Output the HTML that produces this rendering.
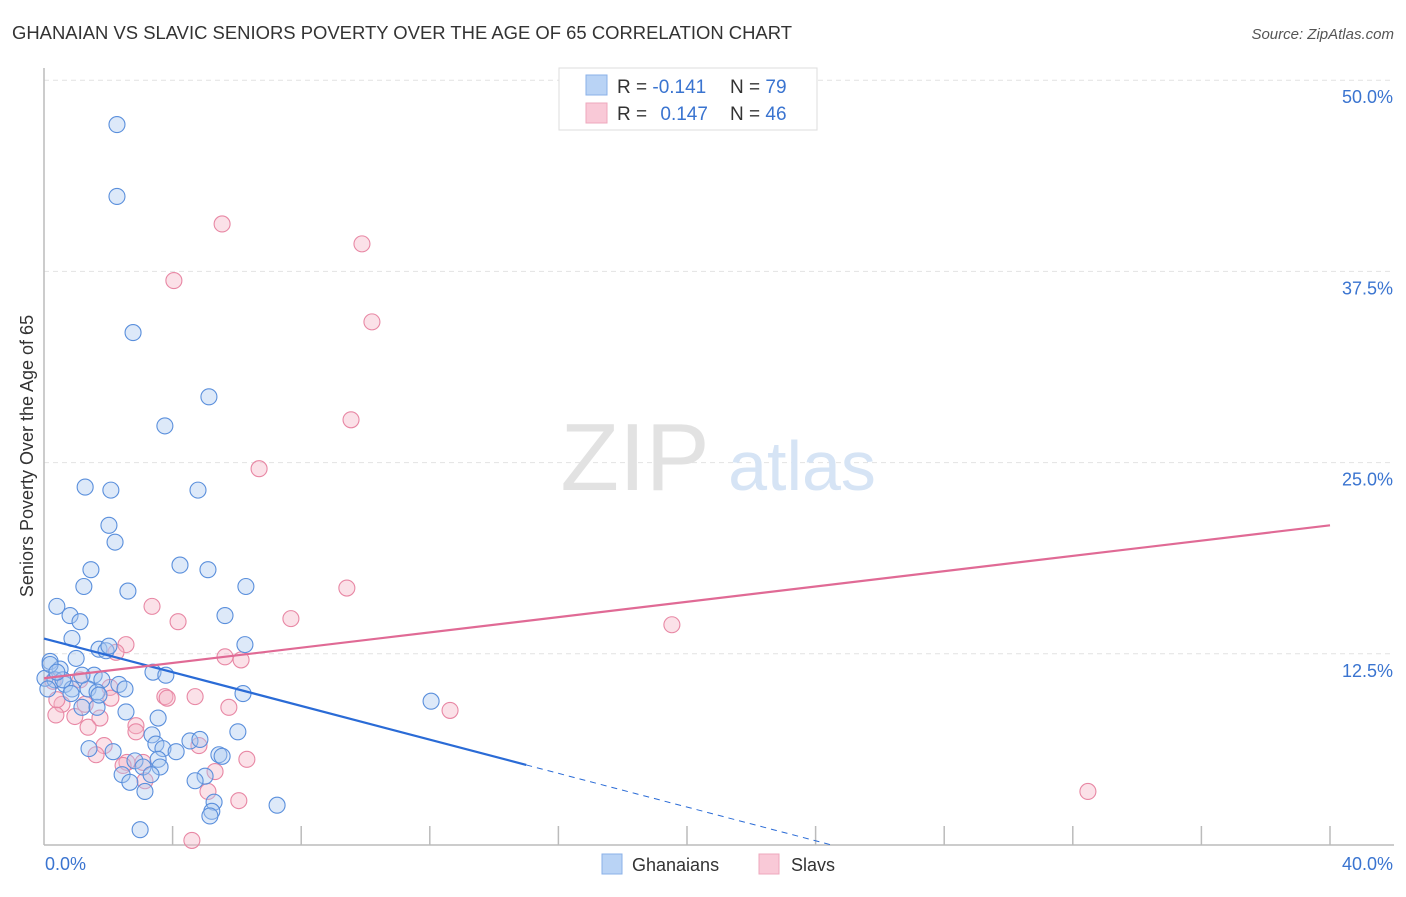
<!DOCTYPE html>
<html><head><meta charset="utf-8"><style>
body{margin:0;background:#fff;font-family:"Liberation Sans",sans-serif;}
svg text{font-family:"Liberation Sans",sans-serif;}
</style></head><body>
<svg id="chart" width="1406" height="892">
<text x="12" y="39" font-size="18" fill="#333" textLength="780" lengthAdjust="spacingAndGlyphs">GHANAIAN VS SLAVIC SENIORS POVERTY OVER THE AGE OF 65 CORRELATION CHART</text>
<text x="1394" y="39" font-size="15" fill="#555" font-style="italic" text-anchor="end">Source: ZipAtlas.com</text>
<text transform="translate(33,456) rotate(-90)" font-size="18" fill="#333" text-anchor="middle">Seniors Poverty Over the Age of 65</text>
<g id="grid"></g>
<g id="wm">
<text x="635" y="490" font-size="96" fill="#e2e2e2" font-family="Liberation Serif" text-anchor="middle">ZIP</text>
<text x="802" y="490" font-size="70" fill="#d6e4f5" text-anchor="middle">atlas</text>
</g>
<g id="axes"></g>
<g id="pts"></g>
<g id="trend"></g>
<g>
<rect x="559" y="68" width="258" height="62" fill="#fff" stroke="#ddd"/>
<rect x="586" y="75" width="21" height="20" fill="#b9d3f5" stroke="#8ab0e8"/>
<rect x="586" y="103" width="21" height="20" fill="#f9c9d7" stroke="#eea8bd"/>
<text x="617" y="93" font-size="19" fill="#333">R = <tspan fill="#3a74d0">-0.141</tspan></text>
<text x="730" y="93" font-size="19" fill="#333">N = <tspan fill="#3a74d0">79</tspan></text>
<text x="617" y="120" font-size="19" fill="#333">R = <tspan fill="#3a74d0" dx="8">0.147</tspan></text>
<text x="730" y="120" font-size="19" fill="#333">N = <tspan fill="#3a74d0">46</tspan></text>
</g>
<g>
<rect x="602" y="854" width="20" height="20" fill="#b9d3f5" stroke="#8ab0e8"/>
<text x="632" y="871" font-size="18" fill="#333">Ghanaians</text>
<rect x="759" y="854" width="20" height="20" fill="#f9c9d7" stroke="#eea8bd"/>
<text x="791" y="871" font-size="18" fill="#333">Slavs</text>
</g>
</svg>
<script>
const blueX=[2.27,2.27,2.77,5.13,3.76,1.28,2.08,4.79,2.02,2.21,4.23,1.46,5.10,2.61,1.24,6.28,0.40,0.81,1.12,5.63,0.87,6.25,1.71,1.93,1.00,0.19,0.50,1.56,2.33,1.80,3.39,3.79,0.03,0.34,0.65,0.87,1.37,1.65,2.52,6.19,12.04,1.18,1.65,2.55,3.55,3.36,6.03,4.54,4.85,3.48,3.70,1.40,2.15,4.11,5.44,5.54,3.55,2.83,3.08,3.61,3.33,2.43,5.01,4.70,2.67,3.14,5.29,5.22,5.16,7.25,2.99,0.19,0.12,0.59,0.40,1.71,0.84,2.02,1.18];
const blueY=[47.1,42.4,33.5,29.3,27.4,23.4,23.2,23.2,20.9,19.8,18.3,18.0,18.0,16.6,16.9,16.9,15.6,15.0,14.6,15.0,13.5,13.1,12.8,12.7,12.2,12.0,11.5,11.1,10.5,10.8,11.3,11.1,10.9,10.8,10.5,10.2,10.2,10.0,10.2,9.9,9.4,9.0,9.0,8.7,8.3,7.2,7.4,6.8,6.9,6.6,6.3,6.3,6.1,6.1,5.9,5.8,5.6,5.5,5.1,5.1,4.6,4.6,4.5,4.2,4.1,3.5,2.8,2.2,1.9,2.6,1.0,11.8,10.2,10.8,11.3,9.8,9.9,13.0,11.1];
const pinkX=[5.54,9.89,4.04,10.20,9.55,6.69,9.42,3.36,4.17,7.68,19.53,2.55,2.24,5.63,6.13,0.28,1.12,2.05,3.76,4.70,3.83,2.08,0.56,0.37,0.96,1.74,5.75,12.63,1.37,2.86,1.87,1.62,4.82,6.31,2.58,2.46,3.08,5.32,5.10,3.14,6.06,32.47,4.60,1.28,2.86,0.40];
const pinkY=[40.6,39.3,36.9,34.2,27.8,24.6,16.8,15.6,14.6,14.8,14.4,13.1,12.6,12.3,12.1,10.7,10.8,10.3,9.7,9.7,9.6,9.6,9.2,8.5,8.4,8.3,9.0,8.8,7.7,7.8,6.5,5.9,6.5,5.6,5.4,5.2,5.4,4.8,3.5,4.2,2.9,3.5,0.3,9.2,7.4,9.5];
const yTicks=[12.5,25.0,37.5,50.0];
const xTicks=[0,4,8,12,16,20,24,28,32,36,40];
const blueTrend=[13.5,-0.551]; // intercept, slope
const pinkTrend=[10.9,0.25];
const blueSolidEnd=15.0;

const NS="http://www.w3.org/2000/svg";
const X0=44,X1=1330,Y0=845,PPY=191.2/12.5;
const sx=v=>X0+(v/40)*(X1-X0);
const sy=v=>Y0-v*PPY;
function mk(tag,attrs,parent){const e=document.createElementNS(NS,tag);for(const k in attrs)e.setAttribute(k,attrs[k]);parent.appendChild(e);return e;}
const grid=document.getElementById('grid'),axes=document.getElementById('axes'),pts=document.getElementById('pts'),trend=document.getElementById('trend');
yTicks.forEach(t=>{
  const l=mk('line',{x1:X0,x2:1394,y1:sy(t),y2:sy(t),stroke:'#e2e2e2','stroke-dasharray':'5,4'},grid);
  
  
  const tx=mk('text',{x:1393,y:sy(t)+23,'font-size':18,fill:'#3a74d0','text-anchor':'end'},axes);
  tx.textContent=t.toFixed(1)+'%';
  
  
});
mk('line',{x1:X0,x2:X0,y1:68,y2:Y0,stroke:'#bbb','stroke-width':1.5},axes);
mk('line',{x1:X0,x2:1394,y1:Y0,y2:Y0,stroke:'#bbb','stroke-width':1.5},axes);
xTicks.slice(1).forEach(t=>{
  const l=mk('line',{x1:sx(t),x2:sx(t),y1:Y0-19,y2:Y0,stroke:'#bbb','stroke-width':1.5},axes);
  
  
});
[[0,'0.0%','start',45],[40,'40.0%','end',1393]].forEach(a=>{
  const tx=mk('text',{x:a[3],y:870,'font-size':18,fill:'#3a74d0','text-anchor':a[2]},axes);
  tx.textContent=a[1];
  
  
});
function dots(xs,ys,fill,stroke,name){
  xs.forEach((x,i)=>{
    const c=mk('circle',{cx:sx(x),cy:sy(ys[i]),r:8,fill:fill,'fill-opacity':0.4,stroke:stroke,'stroke-width':1.1},pts);
    
    
  });
}
dots(pinkX,pinkY,'#f6b3c6','#e887a4','slavs-point');
dots(blueX,blueY,'#a9c8f0','#5a8fdc','ghanaians-point');
const bz=-blueTrend[0]/blueTrend[1];
const b1=mk('line',{x1:sx(0),y1:sy(blueTrend[0]),x2:sx(blueSolidEnd),y2:sy(blueTrend[0]+blueTrend[1]*blueSolidEnd),stroke:'#2a6bd6','stroke-width':2.2},trend);


const b2=mk('line',{x1:sx(blueSolidEnd),y1:sy(blueTrend[0]+blueTrend[1]*blueSolidEnd),x2:sx(bz),y2:sy(0),stroke:'#2a6bd6','stroke-width':1,'stroke-dasharray':'6,5'},trend);


const p1=mk('line',{x1:sx(0),y1:sy(pinkTrend[0]),x2:sx(40),y2:sy(pinkTrend[0]+pinkTrend[1]*40),stroke:'#e06a95','stroke-width':2.2},trend);


</script>
</body></html>
